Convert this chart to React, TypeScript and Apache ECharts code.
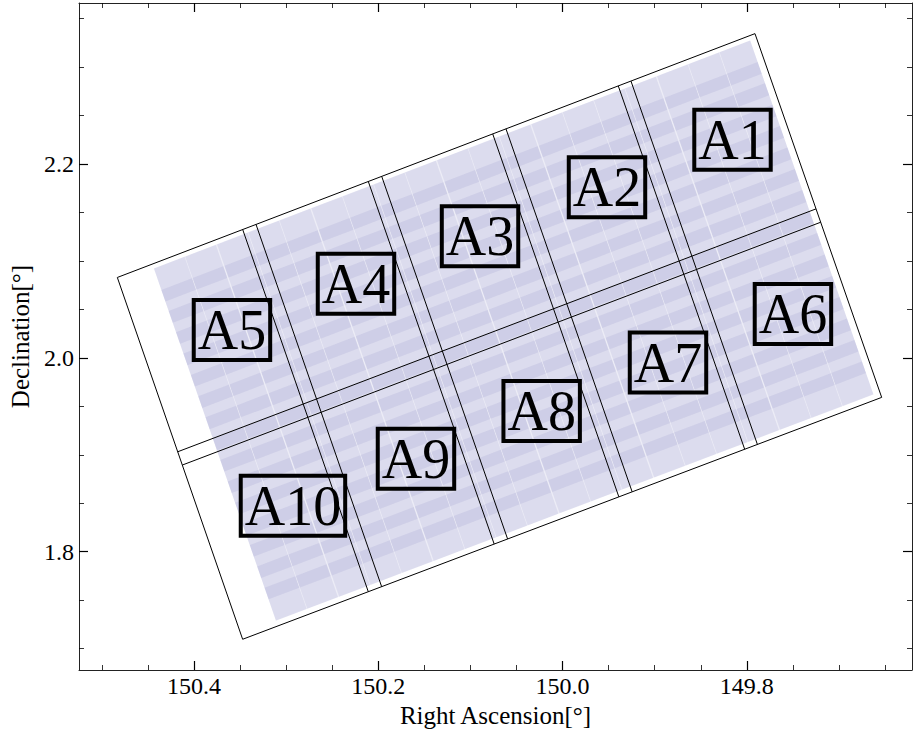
import React, { useEffect, useRef } from "react";
import * as echarts from "echarts";

// Footprint outline corners (left, top, right, bottom) in RA / Dec
const cornerRA = [150.4832, 149.7912, 149.6537, 150.3472];
const cornerDec = [2.0829, 2.3344, 1.9592, 1.7097];

// Field boundaries as fractions along the long (u) and short (v) sides
const columnEdgesU = [0.1966, 0.2175, 0.3936, 0.4146, 0.5887, 0.6095, 0.7856, 0.8055];
const rowEdgesV = [0.4818, 0.5185];

// Coverage region and pointing tiles (fractions of the footprint)
const coverageU = [0.055, 0.99];
const coverageV = [0.012, 0.985];
const tileCentersU = [0.079, 0.128, 0.178, 0.227, 0.276, 0.326, 0.375, 0.424, 0.473, 0.523, 0.572, 0.621, 0.671, 0.72, 0.769, 0.818, 0.868, 0.917, 0.966];
const tileCentersV = [0.058, 0.117, 0.175, 0.234, 0.293, 0.352, 0.411, 0.469, 0.528, 0.587, 0.646, 0.705, 0.763, 0.822, 0.881, 0.94];
const tileSizeU = 0.048;
const tileSizeV = 0.091;

// Field labels
const fieldNames = ["A1", "A2", "A3", "A4", "A5", "A6", "A7", "A8", "A9", "A10"];
const fieldRA = [149.8156, 149.9518, 150.0896, 150.2242, 150.3588, 149.75, 149.8856, 150.0227, 150.1591, 150.2926];
const fieldDec = [2.2249, 2.176, 2.1255, 2.0765, 2.0286, 2.0451, 1.9951, 1.9451, 1.8959, 1.8474];

// Axes
const raRange = [149.6208, 150.5248];
const decRange = [1.678, 2.366];
const raTicks = [150.4, 150.2, 150.0, 149.8];
const decTicks = [1.8, 2.0, 2.2];

const FONT = "Liberation Serif";

function uvToSky(u: number, v: number): number[] {
  const w = [(1 - u) * (1 - v), u * (1 - v), u * v, (1 - u) * v];
  let ra = 0;
  let dec = 0;
  for (let i = 0; i < 4; i++) {
    ra += w[i] * cornerRA[i];
    dec += w[i] * cornerDec[i];
  }
  return [ra, dec];
}

function quad(api: any, u0: number, u1: number, v0: number, v1: number) {
  return [
    [u0, v0],
    [u1, v0],
    [u1, v1],
    [u0, v1],
  ].map(([u, v]) => api.coord(uvToSky(u, v)));
}

export default function App() {
  const ref = useRef<HTMLDivElement>(null);

  useEffect(() => {
    if (!ref.current) return;
    const chart = echarts.init(ref.current, undefined, { renderer: "svg" });

    const tileData: number[][] = [];
    tileCentersU.forEach((_, i) => tileCentersV.forEach((__, j) => tileData.push([i, j])));

    const axisCommon = (inverse: boolean, range: number[], ticks: number[]) => ({
      type: "value",
      min: range[0],
      max: range[1],
      inverse,
      minInterval: 0.2,
      maxInterval: 0.2,
      splitLine: { show: false },
      axisLine: { show: true, onZero: false, lineStyle: { color: "#222", width: 1 } },
      axisTick: {
        show: true,
        inside: true,
        length: 9,
        customValues: ticks,
        lineStyle: { color: "#000", width: 1.2 },
      },
      minorTick: { show: true, splitNumber: 4, length: 5, lineStyle: { color: "#000", width: 0.8 } },
    });

    const option: any = {
      animation: false,
      grid: { left: 79, right: 3, top: 3, bottom: 66, containLabel: false },
      xAxis: [
        {
          ...axisCommon(true, raRange, raTicks),
          position: "bottom",
          name: "Right Ascension[°]",
          nameLocation: "middle",
          nameGap: 33,
          nameTextStyle: { fontFamily: FONT, fontSize: 25, color: "#000" },
          axisLabel: {
            show: true,
            customValues: raTicks,
            formatter: (v: number) => v.toFixed(1),
            fontFamily: FONT,
            fontSize: 24,
            color: "#000",
            margin: 4,
          },
        },
        {
          ...axisCommon(true, raRange, raTicks),
          position: "top",
          axisLabel: { show: false },
        },
      ],
      yAxis: [
        {
          ...axisCommon(false, decRange, decTicks),
          position: "left",
          name: "Declination[°]",
          nameLocation: "middle",
          nameGap: 46,
          nameTextStyle: { fontFamily: FONT, fontSize: 25, color: "#000" },
          axisLabel: {
            show: true,
            customValues: decTicks,
            formatter: (v: number) => v.toFixed(1),
            fontFamily: FONT,
            fontSize: 24,
            color: "#000",
            margin: 5,
          },
        },
        {
          ...axisCommon(false, decRange, decTicks),
          position: "right",
          axisLabel: { show: false },
        },
      ],
      series: [
        {
          type: "custom",
          name: "coverage",
          coordinateSystem: "cartesian2d",
          z: 1,
          silent: true,
          data: [[0, 0]],
          renderItem: (_params: any, api: any) => ({
            type: "polygon",
            shape: { points: quad(api, coverageU[0], coverageU[1], coverageV[0], coverageV[1]) },
            style: { fill: "rgba(110,110,185,0.13)", stroke: "none" },
          }),
        },
        {
          type: "custom",
          name: "tiles",
          coordinateSystem: "cartesian2d",
          z: 2,
          silent: true,
          data: tileData,
          renderItem: (_params: any, api: any) => {
            const uc = tileCentersU[api.value(0)];
            const vc = tileCentersV[api.value(1)];
            return {
              type: "polygon",
              shape: {
                points: quad(api, uc - tileSizeU / 2, uc + tileSizeU / 2, vc - tileSizeV / 2, vc + tileSizeV / 2),
              },
              style: { fill: "rgba(110,110,185,0.12)", stroke: "none" },
            };
          },
        },
        {
          type: "custom",
          name: "outline",
          coordinateSystem: "cartesian2d",
          z: 3,
          silent: true,
          data: [[0, 0]],
          renderItem: (_params: any, api: any) => {
            const children: any[] = [];
            children.push({
              type: "polygon",
              shape: { points: quad(api, 0, 1, 0, 1) },
              style: { fill: "none", stroke: "#000", lineWidth: 1 },
            });
            columnEdgesU.forEach((u) => {
              const a = api.coord(uvToSky(u, 0));
              const b = api.coord(uvToSky(u, 1));
              children.push({
                type: "line",
                shape: { x1: a[0], y1: a[1], x2: b[0], y2: b[1] },
                style: { stroke: "#000", lineWidth: 1 },
              });
            });
            rowEdgesV.forEach((v) => {
              const a = api.coord(uvToSky(0, v));
              const b = api.coord(uvToSky(1, v));
              children.push({
                type: "line",
                shape: { x1: a[0], y1: a[1], x2: b[0], y2: b[1] },
                style: { stroke: "#000", lineWidth: 1 },
              });
            });
            return { type: "group", children };
          },
        },
        {
          type: "scatter",
          name: "fields",
          z: 5,
          symbolSize: 1,
          itemStyle: { color: "rgba(0,0,0,0)", opacity: 1 },
          data: fieldNames.map((n, i) => ({ name: n, value: [fieldRA[i], fieldDec[i]] })),
          label: {
            show: true,
            position: "inside",
            formatter: "{b}",
            fontFamily: FONT,
            fontSize: 56,
            lineHeight: 54,
            color: "#000",
            opacity: 1,
            borderColor: "#000",
            borderWidth: 4,
            padding: [3, 4],
          },
        },
      ],
    };

    chart.setOption(option);
    return () => chart.dispose();
  }, []);

  return (
    <div
      ref={ref}
      style={{ position: "fixed", left: 0, top: 0, width: 915, height: 736, background: "#fff" }}
    />
  );
}
